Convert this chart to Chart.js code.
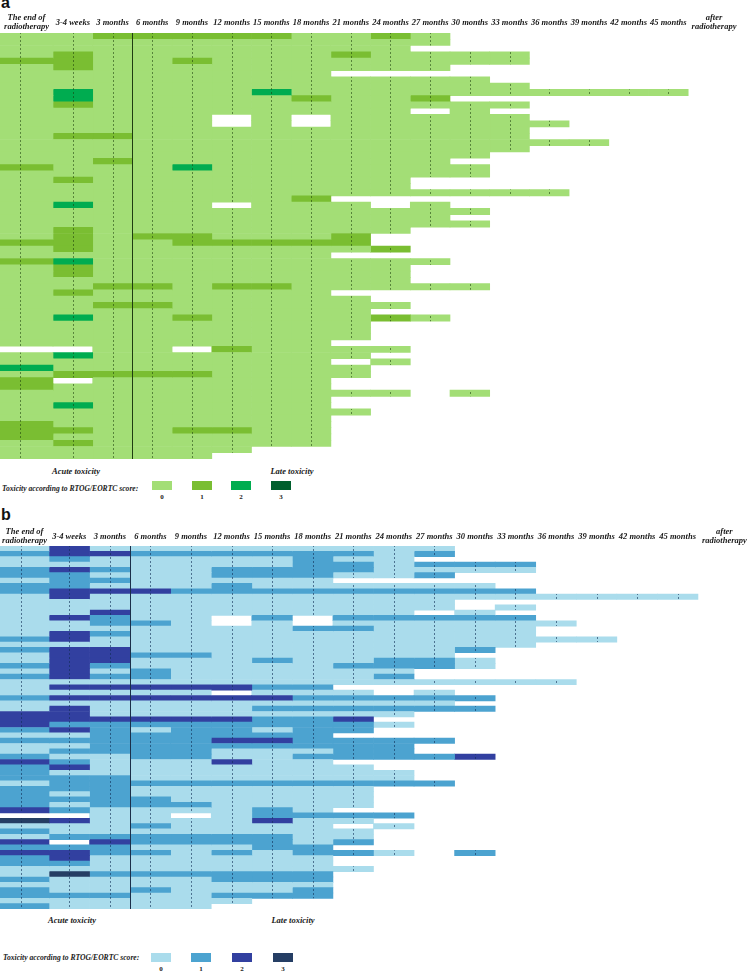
<!DOCTYPE html>
<html>
<head>
<meta charset="utf-8">
<script src="https://cdn.jsdelivr.net/npm/chart.js@4.4.0/dist/chart.umd.min.js"></script>
<style>
  body { margin: 0; background: #fff; }
  #page { position: relative; width: 747px; height: 972px; overflow: hidden; background: #fff; }
  canvas { position: absolute; left: 0; }
  .txt { position: absolute; font-family: 'Liberation Serif', 'Times New Roman', serif; font-weight: bold; font-style: italic; font-size: 8.5px; line-height: 10px; color: #1a1a1a; white-space: nowrap; }
  .legtxt { font-size: 7.6px; }
  .mid { transform: translate(-50%, -50%); }
  .left { transform: translateY(-50%); }
  .panel { position: absolute; font-family: 'Liberation Sans', Arial, sans-serif; font-weight: bold; font-size: 16px; line-height: 16px; color: #111; }
  .sw { position: absolute; width: 20px; height: 9px; }
  .num { position: absolute; font-family: 'Liberation Serif', serif; font-weight: bold; font-size: 7px; line-height: 8px; color: #1a1a1a; transform: translate(-50%, -50%); }
</style>
</head>
<body>
<div id="page">
  <div class="panel" style="left:1px; top:-5px;">a</div>
  <canvas id="chartA" width="747" height="459" style="top:0px;"></canvas>
  <div class="txt mid" style="left:76px; top:471px;">Acute toxicity</div>
  <div class="txt mid" style="left:292px; top:471px;">Late toxicity</div>
  <div class="txt legtxt left" style="left:2px; top:489px;">Toxicity according to RTOG/EORTC score:</div>
  <div id="legendA"></div>

  <div class="panel" style="left:1px; top:507px;">b</div>
  <canvas id="chartB" width="747" height="396" style="top:513px;"></canvas>
  <div class="txt mid" style="left:72px; top:920px;">Acute toxicity</div>
  <div class="txt mid" style="left:293px; top:920px;">Late toxicity</div>
  <div class="txt legtxt left" style="left:3px; top:958px;">Toxicity according to RTOG/EORTC score:</div>
  <div id="legendB"></div>
</div>
<script>
// column headers (time points)
const columnLabels = [
  ['The end of', 'radiotherapy'], '3-4 weeks', '3 months', '6 months', '9 months',
  '12 months', '15 months', '18 months', '21 months', '24 months', '27 months',
  '30 months', '33 months', '36 months', '39 months', '42 months', '45 months',
  ['after', 'radiotherapy']
];
const gradeLabels = ['0', '1', '2', '3'];
const coloursA = ['#a3de76', '#7abe32', '#00ac50', '#005f2d'];
const coloursB = ['#aadcec', '#4ca3d0', '#3240a0', '#253e64'];

// one string per patient, one char per time point: toxicity grade, '.' = no data
const gradesA = [
  '00111110010', '00000000000', '0000000000', '0100000010000', '1100100000000',
  '01000000000', '00000000', '000000000000', '0000000000000', '02000020000000000',
  '02000001001', '0100000000000', '0000000000.0', '00000.0.00000', '00000.0.000000',
  '0000000000000', '0110000000000', '000000000000000', '0000000000000', '000000000000',
  '00100000000', '100020000000', '000000000000', '0100000000', '0000000000',
  '00000000000000', '00000001', '02000.000.0', '000000000000', '00000000000',
  '000000000000', '0100000000', '010110001', '110011111', '0100000001',
  '00000000', '12000000000', '0100000000', '0100000000', '0000000000',
  '001101100000', '01000000', '000000000', '0011000000', '000000000',
  '02001000010', '000000000', '000000000', '000000000', '00000000',
  '..00.10000', '020000000', '00000000.0', '200000000', '011110000',
  '1.000000', '10000000', '0000000000.0', '00000000', '02000000',
  '000000000', '00000000', '10000000', '11001100', '10000000',
  '01000000', '000000', '00000'
];
const gradesB = [
  '02000000000', '12211111101', '0100000100', '0000000110111', '1210011110000',
  '11000111001', '01100000', '110001000000', '1222111111111', '02000000000000000',
  '00000000000', '00000000000.0', '0020000000.0', '02100.1.11111', '00110.0.000000',
  '0000000110000', '0210000000000', '120000000000000', '0000000000000', '122000000001',
  '02211000000', '022000100110', '121000001110', '0201000000', '1211000001',
  '00000000000000', '02222211', '00000.000.0', '122222211111', '00000000000',
  '020000111111', '2200000000', '222222112', '2111111110', '121011011',
  '00111111', '11111221111', '0011111111', '0111100011', '100110011112',
  '21000200', '120000000', '1000000000', '1110000000', '01111111111',
  '111000000', '101000000', '111100000', '101110000', '21000010',
  '..00.01111', '320000200', '00010000.0', '100000000', '011111100',
  '2.2111101', '11100011', '2211010110.1', '12000000', '11000000',
  '000000000', '03111111', '10000111', '00000000', '10010001',
  '11100111', '000000', '10000'
];

const cellLines = {
  id: 'cellLines',
  afterDatasetsDraw(chart, args, opts) {
    const ctx = chart.ctx;
    const area = chart.chartArea;
    ctx.save();
    ctx.lineWidth = 1;
    ctx.strokeStyle = opts.dash;
    ctx.setLineDash([2, 2]);
    chart.data.datasets.forEach((ds, c) => {
      chart.getDatasetMeta(c).data.forEach((bar, r) => {
        if (!ds.data[r]) return;
        const left = Math.min(bar.x, bar.base);
        const right = Math.max(bar.x, bar.base);
        const px = Math.round(c === 0 ? left + (right - left) * opts.firstFrac : (left + right) / 2) + 0.5;
        const top = bar.y - bar.height / 2;
        ctx.lineDashOffset = top % 4;
        ctx.beginPath();
        ctx.moveTo(px, top);
        ctx.lineTo(px, top + bar.height);
        ctx.stroke();
      });
    });
    // acute / late divider
    ctx.setLineDash([]);
    ctx.strokeStyle = opts.divider;
    const dx = Math.round(chart.scales.x.getPixelForValue(opts.firstWidth + 2)) + 0.5;
    ctx.beginPath();
    ctx.moveTo(dx, area.top);
    ctx.lineTo(dx, area.bottom);
    ctx.stroke();
    ctx.restore();
  }
};

function makePanel(id, grades, colours, firstWidth, xMax, pad, firstFrac, dash, divider) {
  const datasets = [];
  for (let c = 0; c < 17; c++) {
    const start = c === 0 ? 0 : firstWidth + c - 1;
    const end = firstWidth + c;
    datasets.push({
      data: grades.map(row => (row[c] === undefined || row[c] === '.') ? null : [start, end]),
      backgroundColor: grades.map(row => colours[+row[c]] || 'rgba(0,0,0,0)'),
      borderWidth: 0,
      grouped: false,
      barPercentage: 1,
      categoryPercentage: 1
    });
  }
  const labelPos = columnLabels.map((l, i) => i === 0 ? firstWidth / 2 : firstWidth + i - 0.5 + (i === 17 ? 0.15 : 0));
  return new Chart(document.getElementById(id), {
    type: 'bar',
    data: { labels: grades.map((g, i) => String(i + 1)), datasets: datasets },
    plugins: [cellLines],
    options: {
      indexAxis: 'y',
      responsive: false,
      animation: false,
      devicePixelRatio: 1,
      layout: { padding: 0 },
      plugins: {
        legend: { display: false },
        tooltip: { enabled: false },
        cellLines: { dash: dash, divider: divider, firstWidth: firstWidth, firstFrac: firstFrac }
      },
      scales: {
        x: {
          type: 'linear',
          position: 'top',
          min: 0,
          max: xMax,
          grid: { display: false, drawTicks: false },
          border: { display: false },
          afterBuildTicks: s => { s.ticks = labelPos.map(v => ({ value: v })); },
          afterFit: s => { s.height = 33; s.paddingLeft = 0; s.paddingRight = 0; },
          ticks: {
            autoSkip: false,
            maxRotation: 0,
            minRotation: 0,
            padding: pad,
            crossAlign: 'center',
            color: '#1a1a1a',
            font: { family: "'Liberation Serif', serif", size: 8.5, style: 'italic', weight: 'bold', lineHeight: 1.05 },
            callback: (v, i) => columnLabels[i]
          }
        },
        y: { type: 'category', display: false, offset: true, grid: { display: false } }
      }
    }
  });
}

function makeLegend(id, colours, lefts, top) {
  const box = document.getElementById(id);
  colours.forEach((col, i) => {
    const sw = document.createElement('div');
    sw.className = 'sw';
    sw.style.left = lefts[i] + 'px';
    sw.style.top = top + 'px';
    sw.style.background = col;
    box.appendChild(sw);
    const n = document.createElement('div');
    n.className = 'num';
    n.textContent = gradeLabels[i];
    n.style.left = (lefts[i] + 10) + 'px';
    n.style.top = (top + 16) + 'px';
    box.appendChild(n);
  });
}

makePanel('chartA', gradesA, coloursA, 1.335, 747 / 39.7, 6, 0.38, 'rgba(25,60,10,0.55)', '#1f3d12');
makePanel('chartB', gradesB, coloursB, 1.208, 747 / 40.56, 5, 0.43, 'rgba(15,45,85,0.6)', '#1b2f4a');
makeLegend('legendA', coloursA, [152, 192, 231, 271], 481);
makeLegend('legendB', coloursB, [151, 191, 232, 273], 953);
</script>
</body>
</html>
